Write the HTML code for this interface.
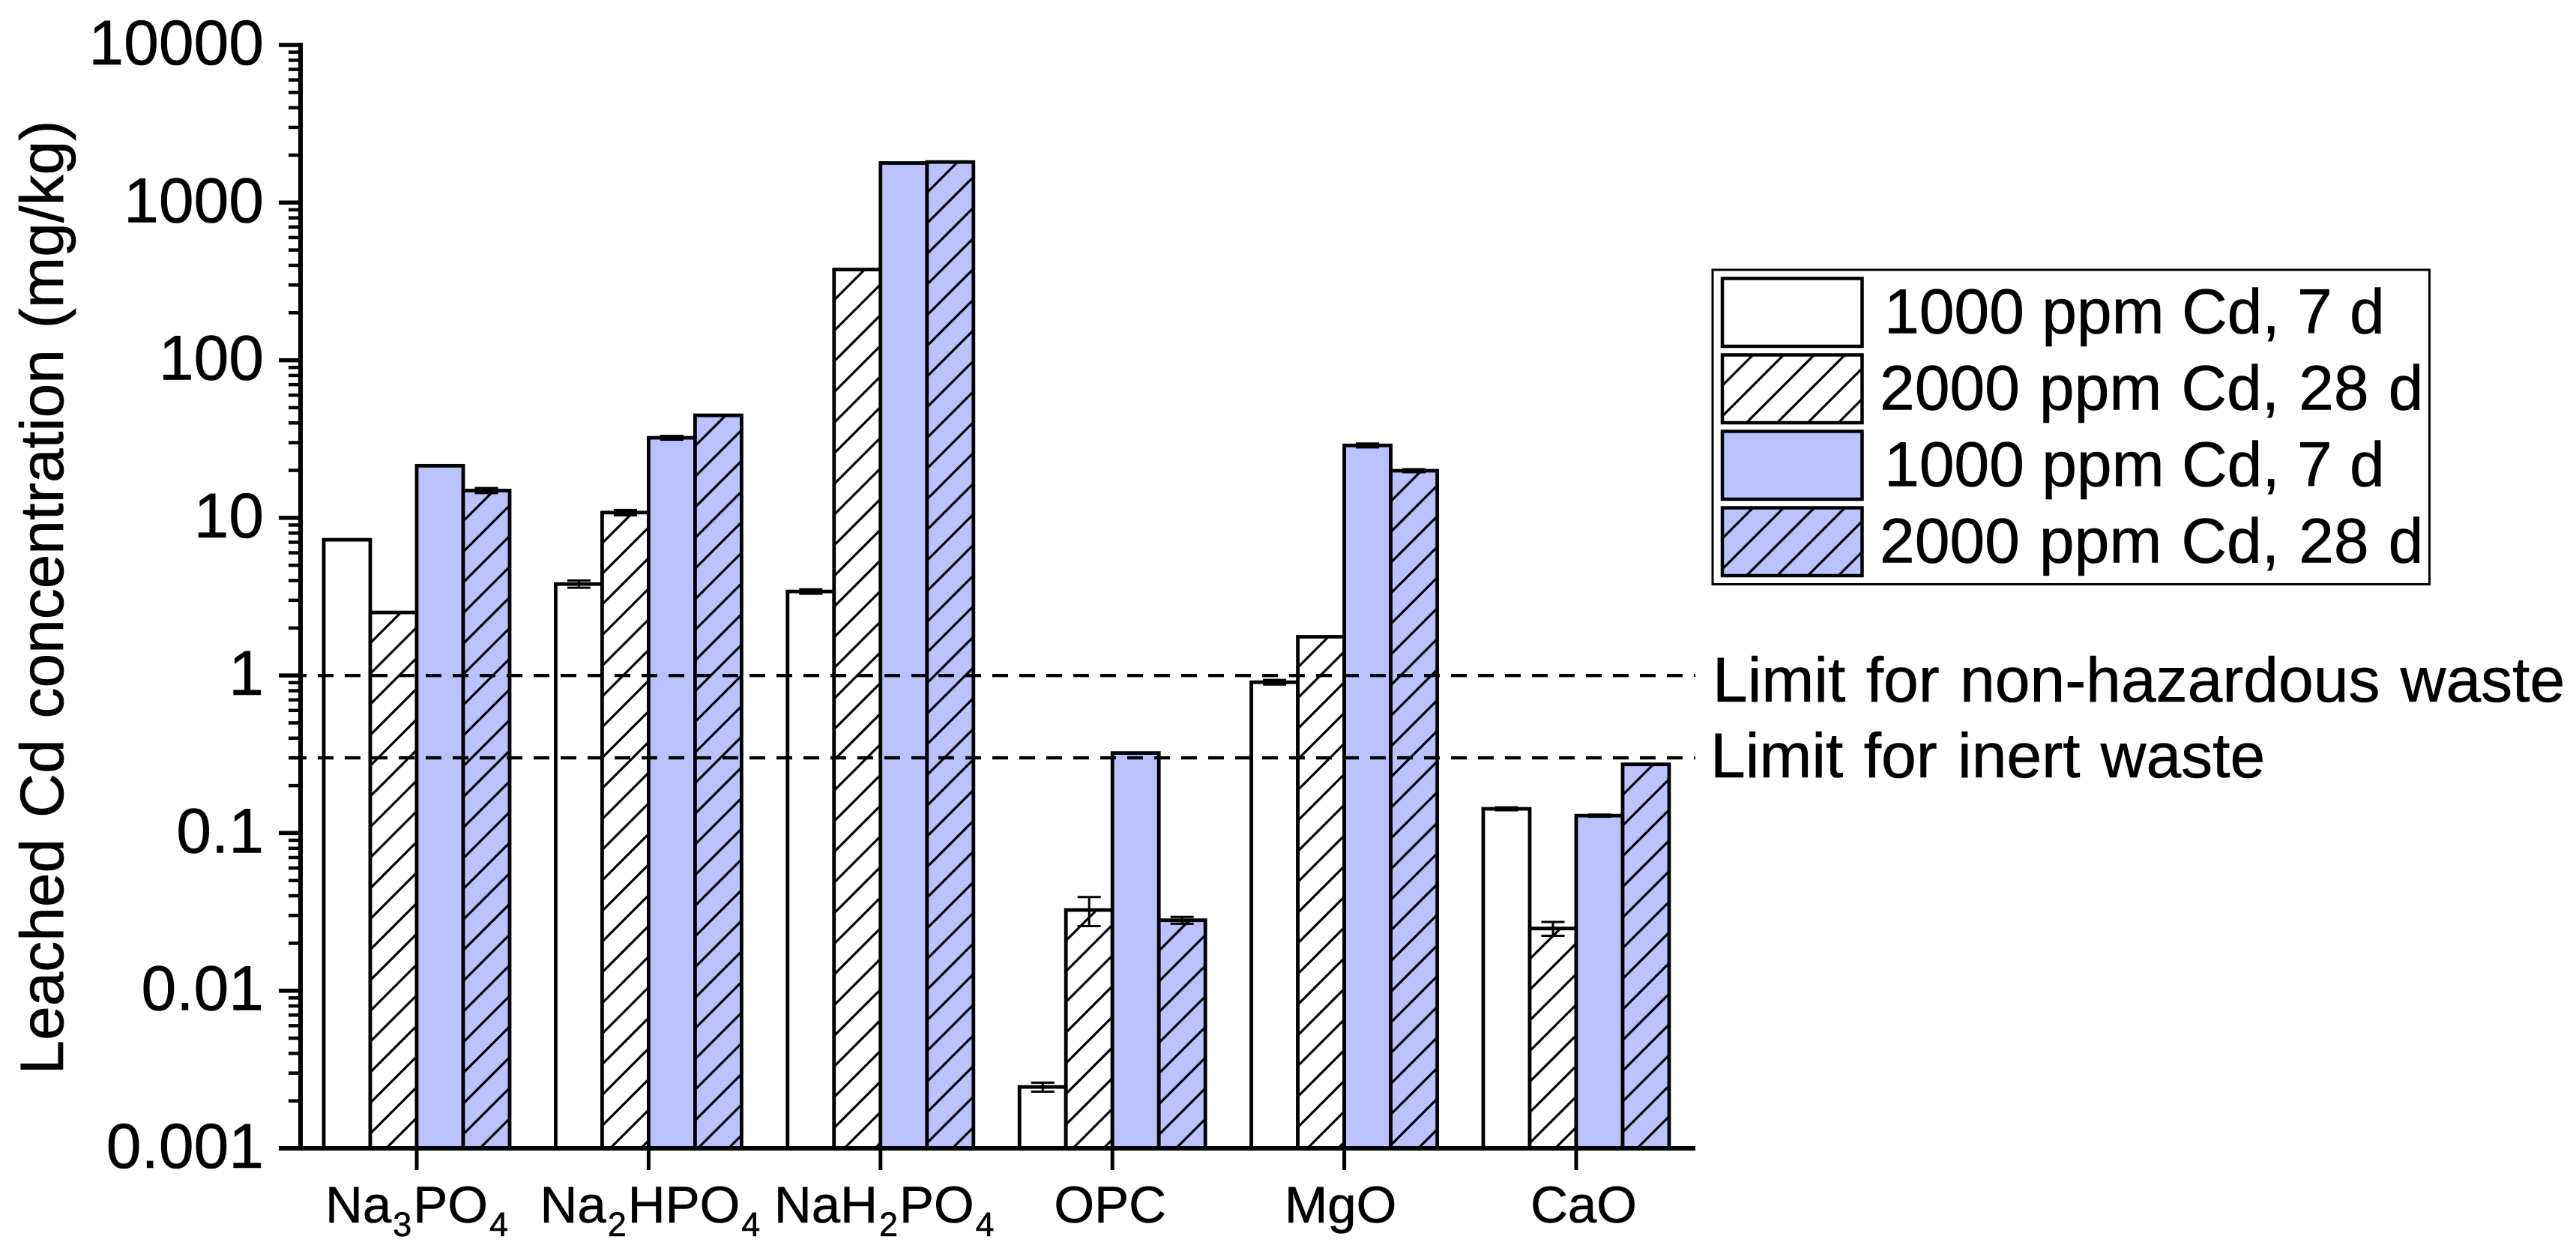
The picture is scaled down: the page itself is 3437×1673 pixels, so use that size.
<!DOCTYPE html>
<html lang="en">
<head>
<meta charset="utf-8">
<title>Leached Cd concentration</title>
<style>
html,body{margin:0;padding:0;background:#fff;}
svg{display:block;}
text{font-family:"Liberation Sans",Arial,sans-serif;fill:#000;stroke:#000;stroke-width:0.6px;}
</style>
</head>
<body>
<svg id="chart" xmlns="http://www.w3.org/2000/svg" width="3437" height="1673" viewBox="0 0 3437 1673">
<rect x="0" y="0" width="3437" height="1673" fill="#fff"/>
<text x="0" y="0" font-size="82" word-spacing="5" text-anchor="middle" transform="translate(84 797) rotate(-90)">Leached Cd concentration (mg/kg)</text>
<g id="marks"></g>
<g id="limits"></g>
<g id="axes"></g>
<g id="legend">
<rect x="2285" y="360" width="956.5" height="419.5" fill="#fff" stroke="#000" stroke-width="3"/>
</g>
<text x="2285" y="936" font-size="84" word-spacing="4">Limit for non-hazardous waste</text>
<text x="2282" y="1037" font-size="84" word-spacing="4">Limit for inert waste</text>
</svg>
<script>
const categories = ["Na3PO4", "Na2HPO4", "NaH2PO4", "OPC", "MgO", "CaO"];
const seriesLabels = ["1000 ppm Cd, 7 d", "2000 ppm Cd, 28 d", "1000 ppm Cd, 7 d", "2000 ppm Cd, 28 d"];
const series1Values = [7.26, 3.8, 3.41, 0.00245, 0.906, 0.1425];
const series2Values = [2.51, 10.8, 376, 0.0325, 1.76, 0.0248];
const series3Values = [21.4, 32.2, 1783, 0.322, 28.8, 0.129];
const series4Values = [14.9, 44.7, 1808, 0.028, 19.9, 0.273];
const series1Errors = [0, 0.2, 0.11, 0.00016, 0.03, 0.003];
const series2Errors = [0, 0.42, 0, 0.0068, 0, 0.0025];
const series3Errors = [0, 0.9, 0, 0, 0.8, 0.002];
const series4Errors = [0.55, 0, 0, 0.0014, 0.44, 0.002];
const yTickValues = [10000, 1000, 100, 10, 1, 0.1, 0.01, 0.001];
const yTickLabels = ["10000", "1000", "100", "10", "1", "0.1", "0.01", "0.001"];
const limitValues = [1, 0.3];

const SVGNS = "http://www.w3.org/2000/svg";
const marks = document.getElementById("marks");
const limits = document.getElementById("limits");
const axes = document.getElementById("axes");
const legend = document.getElementById("legend");

const plotLeft = 401, plotBottom = 1532, plotTop = 60, plotRight = 2262;
const BLUE = "#bac3ff";
const allValues = [series1Values, series2Values, series3Values, series4Values];
const allErrors = [series1Errors, series2Errors, series3Errors, series4Errors];
const barWidth = 62;

function yScale(v) {
  const lo = Math.log10(yTickValues[yTickValues.length - 1]);
  const hi = Math.log10(yTickValues[0]);
  return plotBottom - (Math.log10(v) - lo) / (hi - lo) * (plotBottom - plotTop);
}
function xCenter(i) {
  return 556 + i * 309.4;
}
function slug(s) {
  return s.toLowerCase().replace(/[^a-z0-9]+/g, "-");
}
function make(tag, parent, props) {
  const el = document.createElementNS(SVGNS, tag);
  for (const k in props) el.setAttribute(k, props[k]);
  parent.appendChild(el);
  return el;
}
function hatch(parent, left, top, w, bottom, name) {
  const step = 40.9;
  for (let y0 = top + step; y0 - w < bottom; y0 += step) {
    let x1 = left, y1 = y0, x2 = left + w, y2 = y0 - w;
    if (y2 < top) { x2 = left + (y0 - top); y2 = top; }
    if (y1 > bottom) { x1 = left + (y0 - bottom); y1 = bottom; }
    if (x1 >= x2) continue;
    const ln = make("line", parent, {x1: x1, y1: y1, x2: x2, y2: y2, stroke: "#000", "stroke-width": 3.2});
    
    
  }
}

/* bars and error bars */
categories.forEach(function (cat, c) {
  const g = make("g", marks, {});
  
  
  allValues.forEach(function (vals, s) {
    const v = vals[c];
    const left = xCenter(c) - 2 * barWidth + s * barWidth;
    const top = yScale(v);
    const filled = s >= 2;
    const body = make("rect", g, {x: left, y: top, width: barWidth, height: plotBottom - top, fill: filled ? BLUE : "#fff"});
    
    
    if (s % 2 === 1) hatch(g, left, top, barWidth, plotBottom, 'bar-hatch-line');
    const edge = make("rect", g, {x: left, y: top, width: barWidth, height: plotBottom - top, fill: "none", stroke: "#000", "stroke-width": 4.8, "stroke-linejoin": "miter"});
    
    
  });
  allValues.forEach(function (vals, s) {
    const e = allErrors[s][c];
    if (!(e > 0)) return;
    const v = vals[c];
    const cx = xCenter(c) - 2 * barWidth + s * barWidth + barWidth / 2;
    const yHi = yScale(v + e), yLo = yScale(v - e);
    const stem = make("line", g, {x1: cx, x2: cx, y1: yHi, y2: yLo, stroke: "#000", "stroke-width": 3});
    
    
    [yHi, yLo].forEach(function (yy) {
      const cap = make("line", g, {x1: cx - 15.5, x2: cx + 15.5, y1: yy, y2: yy, stroke: "#000", "stroke-width": 3});
      
      
    });
  });
});

/* dashed limit lines */
limitValues.forEach(function (v) {
  const ln = make("line", limits, {x1: 388, x2: 2262, y1: yScale(v), y2: yScale(v), stroke: "#000", "stroke-width": 4.4, "stroke-dasharray": "21 15"});
  
  
});

/* y axis */
const yAxisLine = make("line", axes, {x1: plotLeft, x2: plotLeft, y1: plotTop - 3, y2: plotBottom + 3, stroke: "#000", "stroke-width": 6});


yTickValues.forEach(function (v, i) {
  const y = yScale(v);
  const t = make("line", axes, {x1: 372, x2: plotLeft, y1: y, y2: y, stroke: "#000", "stroke-width": 5.5});
  
  
  const label = make("text", axes, {x: 352, y: y + 26, "font-size": 84, "text-anchor": "end"});
  label.textContent = yTickLabels[i];
  
  
  if (i < yTickValues.length - 1) {
    for (let m = 2; m <= 9; m++) {
      const my = yScale(yTickValues[i + 1] * m);
      const mt = make("line", axes, {x1: 385, x2: plotLeft, y1: my, y2: my, stroke: "#000", "stroke-width": 4.5});
      
      
    }
  }
});

/* x axis */
const xAxisLine = make("line", axes, {x1: 372, x2: plotRight, y1: plotBottom, y2: plotBottom, stroke: "#000", "stroke-width": 6});


const labelNudge = [0, 2, 5, -3, -5, 10];
categories.forEach(function (cat, c) {
  const x = xCenter(c);
  const t = make("line", axes, {x1: x, x2: x, y1: plotBottom, y2: 1561, stroke: "#000", "stroke-width": 5});
  
  
  const label = make("text", axes, {x: x + labelNudge[c], y: 1631, "font-size": 69, "text-anchor": "middle"});
  
  
  cat.split(/(\d)/).forEach(function (part) {
    if (!part) return;
    const sp = make("tspan", label, {});
    sp.textContent = part;
    if (/\d/.test(part)) {
      sp.setAttribute("font-size", "45");
      sp.setAttribute("dy", "18");
      sp.setAttribute("dx", "2");
    } else if (label.childNodes.length > 1) {
      sp.setAttribute("dy", "-18");
      sp.setAttribute("dx", "2");
    }
  });
});

/* legend */
seriesLabels.forEach(function (txt, s) {
  const top = 371.5 + s * 102;
  const left = 2298, w = 186.5, h = 90.5;
  const filled = s >= 2;
  const swatch = make("rect", legend, {x: left, y: top, width: w, height: h, fill: filled ? BLUE : "#fff"});
  
  
  if (s % 2 === 1) hatch(legend, left, top, w, top + h, 'legend-hatch-line');
  const edge = make("rect", legend, {x: left, y: top, width: w, height: h, fill: "none", stroke: "#000", "stroke-width": 4.5});
  
  
  const label = make("text", legend, {x: s % 2 === 0 ? 2514 : 2508, y: 444.5 + s * 102, "font-size": 84, "word-spacing": s % 2 === 0 ? 0 : 2.7});
  label.textContent = txt;
  
  
});
</script>
</body>
</html>
